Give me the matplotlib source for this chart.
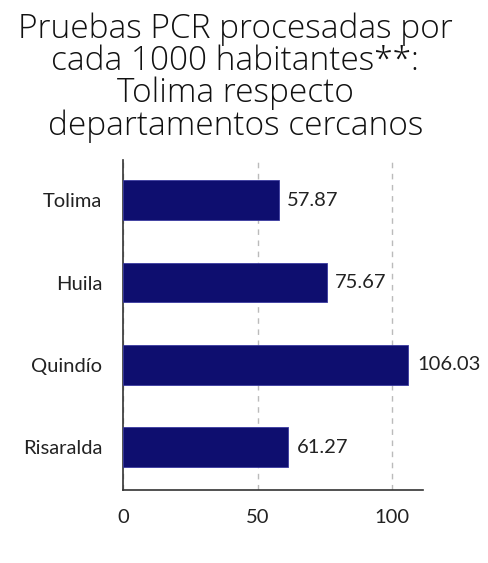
import matplotlib
matplotlib.use("Agg")
import matplotlib.pyplot as plt

categories = ["Tolima", "Huila", "Quindío", "Risaralda"]
values = [57.87, 75.67, 106.03, 61.27]
xticks = [0, 50, 100]

fig = plt.figure(figsize=(4.89, 5.63), dpi=100)
ax = fig.add_axes([0.2515, 0.1297, 0.6135, 0.5863])

ypos = list(range(len(categories)))
ax.barh(ypos, values, height=0.48, color="#0e0e6f", edgecolor="#3a3aa0", linewidth=0.6, zorder=3)
for y, v in zip(ypos, values):
    ax.text(v + 3.2, y, f"{v:.2f}", va="center", ha="left", fontsize=14.5, family="Lato", color="#222222")

ax.set_yticks(ypos)
ax.set_yticklabels(categories, fontsize=14.5, family="Lato", color="#222222")
ax.set_xticks(xticks)
ax.set_xticklabels([str(t) for t in xticks], fontsize=14.5, family="Lato", color="#222222")
ax.set_xlim(0, 111.5)
ax.set_ylim(3.52, -0.49)
ax.tick_params(axis="y", length=0, pad=15)
ax.tick_params(axis="x", length=0, pad=14)
ax.xaxis.grid(True, linestyle=(0, (4, 4)), color="#bbbbbb", linewidth=1, zorder=0)
for s in ["top", "right"]:
    ax.spines[s].set_visible(False)
ax.spines["left"].set_color("#333333")
ax.spines["bottom"].set_color("#333333")
ax.spines["left"].set_linewidth(1.2)
ax.spines["bottom"].set_linewidth(1.2)

fig.text(0.481, 0.978, "Pruebas PCR procesadas por\ncada 1000 habitantes**:\nTolima respecto\ndepartamentos cercanos",
         ha="center", va="top", fontsize=24, family="Open Sans", weight="light", linespacing=0.95, color="#111111")

fig.savefig("out.png", dpi=100)
